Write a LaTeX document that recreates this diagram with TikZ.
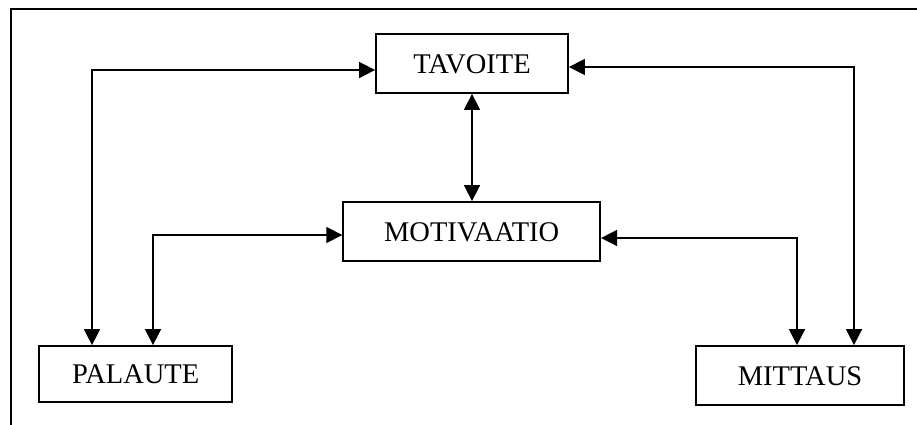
\documentclass[tikz,border=0pt]{standalone}
\usepackage{fontspec}
\setmainfont{Liberation Serif}
\usetikzlibrary{arrows.meta}
\begin{document}
\begin{tikzpicture}[x=1pt,y=-1pt,
  box/.style={draw, line width=1.8pt, inner sep=0pt,
    font=\fontsize{28.5}{31}\selectfont, text height=19pt, text depth=0pt},
  tip/.style={Triangle[length=16pt,width=16pt]},
  link/.style={line width=1.6pt, {Triangle[length=16pt,width=16pt]}-{Triangle[length=16pt,width=16pt]}}]
  \useasboundingbox (0,0) rectangle (917,424);
  % outer frame (only top and left edges fall inside the page)
  \draw[line width=2pt] (11,440) -- (11,9) -- (930,9);

  % boxes
  \node[box, minimum width=192pt, minimum height=59pt] (tav) at (472,63.5) {TAVOITE};
  \node[box, minimum width=257pt, minimum height=59pt] (mot) at (471.7,231.5) {MOTIVAATIO};
  \node[box, minimum width=193pt, minimum height=56pt] (pal) at (135.7,374) {PALAUTE};
  \node[box, minimum width=208pt, minimum height=59pt] (mit) at (800,375.5) {MITTAUS};

  % corner points of the connectors
  \coordinate (ctl) at (92,70);
  \coordinate (ctr) at (854,67);
  \coordinate (cml) at (153,235);
  \coordinate (cmr) at (797,238);

  % connectors
  \draw[link] (tav.west |- ctl) -- (ctl) -- (ctl |- pal.north);
  \draw[link] (tav.east |- ctr) -- (ctr) -- (ctr |- mit.north);
  \draw[link] (mot.west |- cml) -- (cml) -- (cml |- pal.north);
  \draw[link] (mot.east |- cmr) -- (cmr) -- (cmr |- mit.north);
  \draw[link] (tav.south) -- (tav.south |- mot.north);
\end{tikzpicture}
\end{document}
